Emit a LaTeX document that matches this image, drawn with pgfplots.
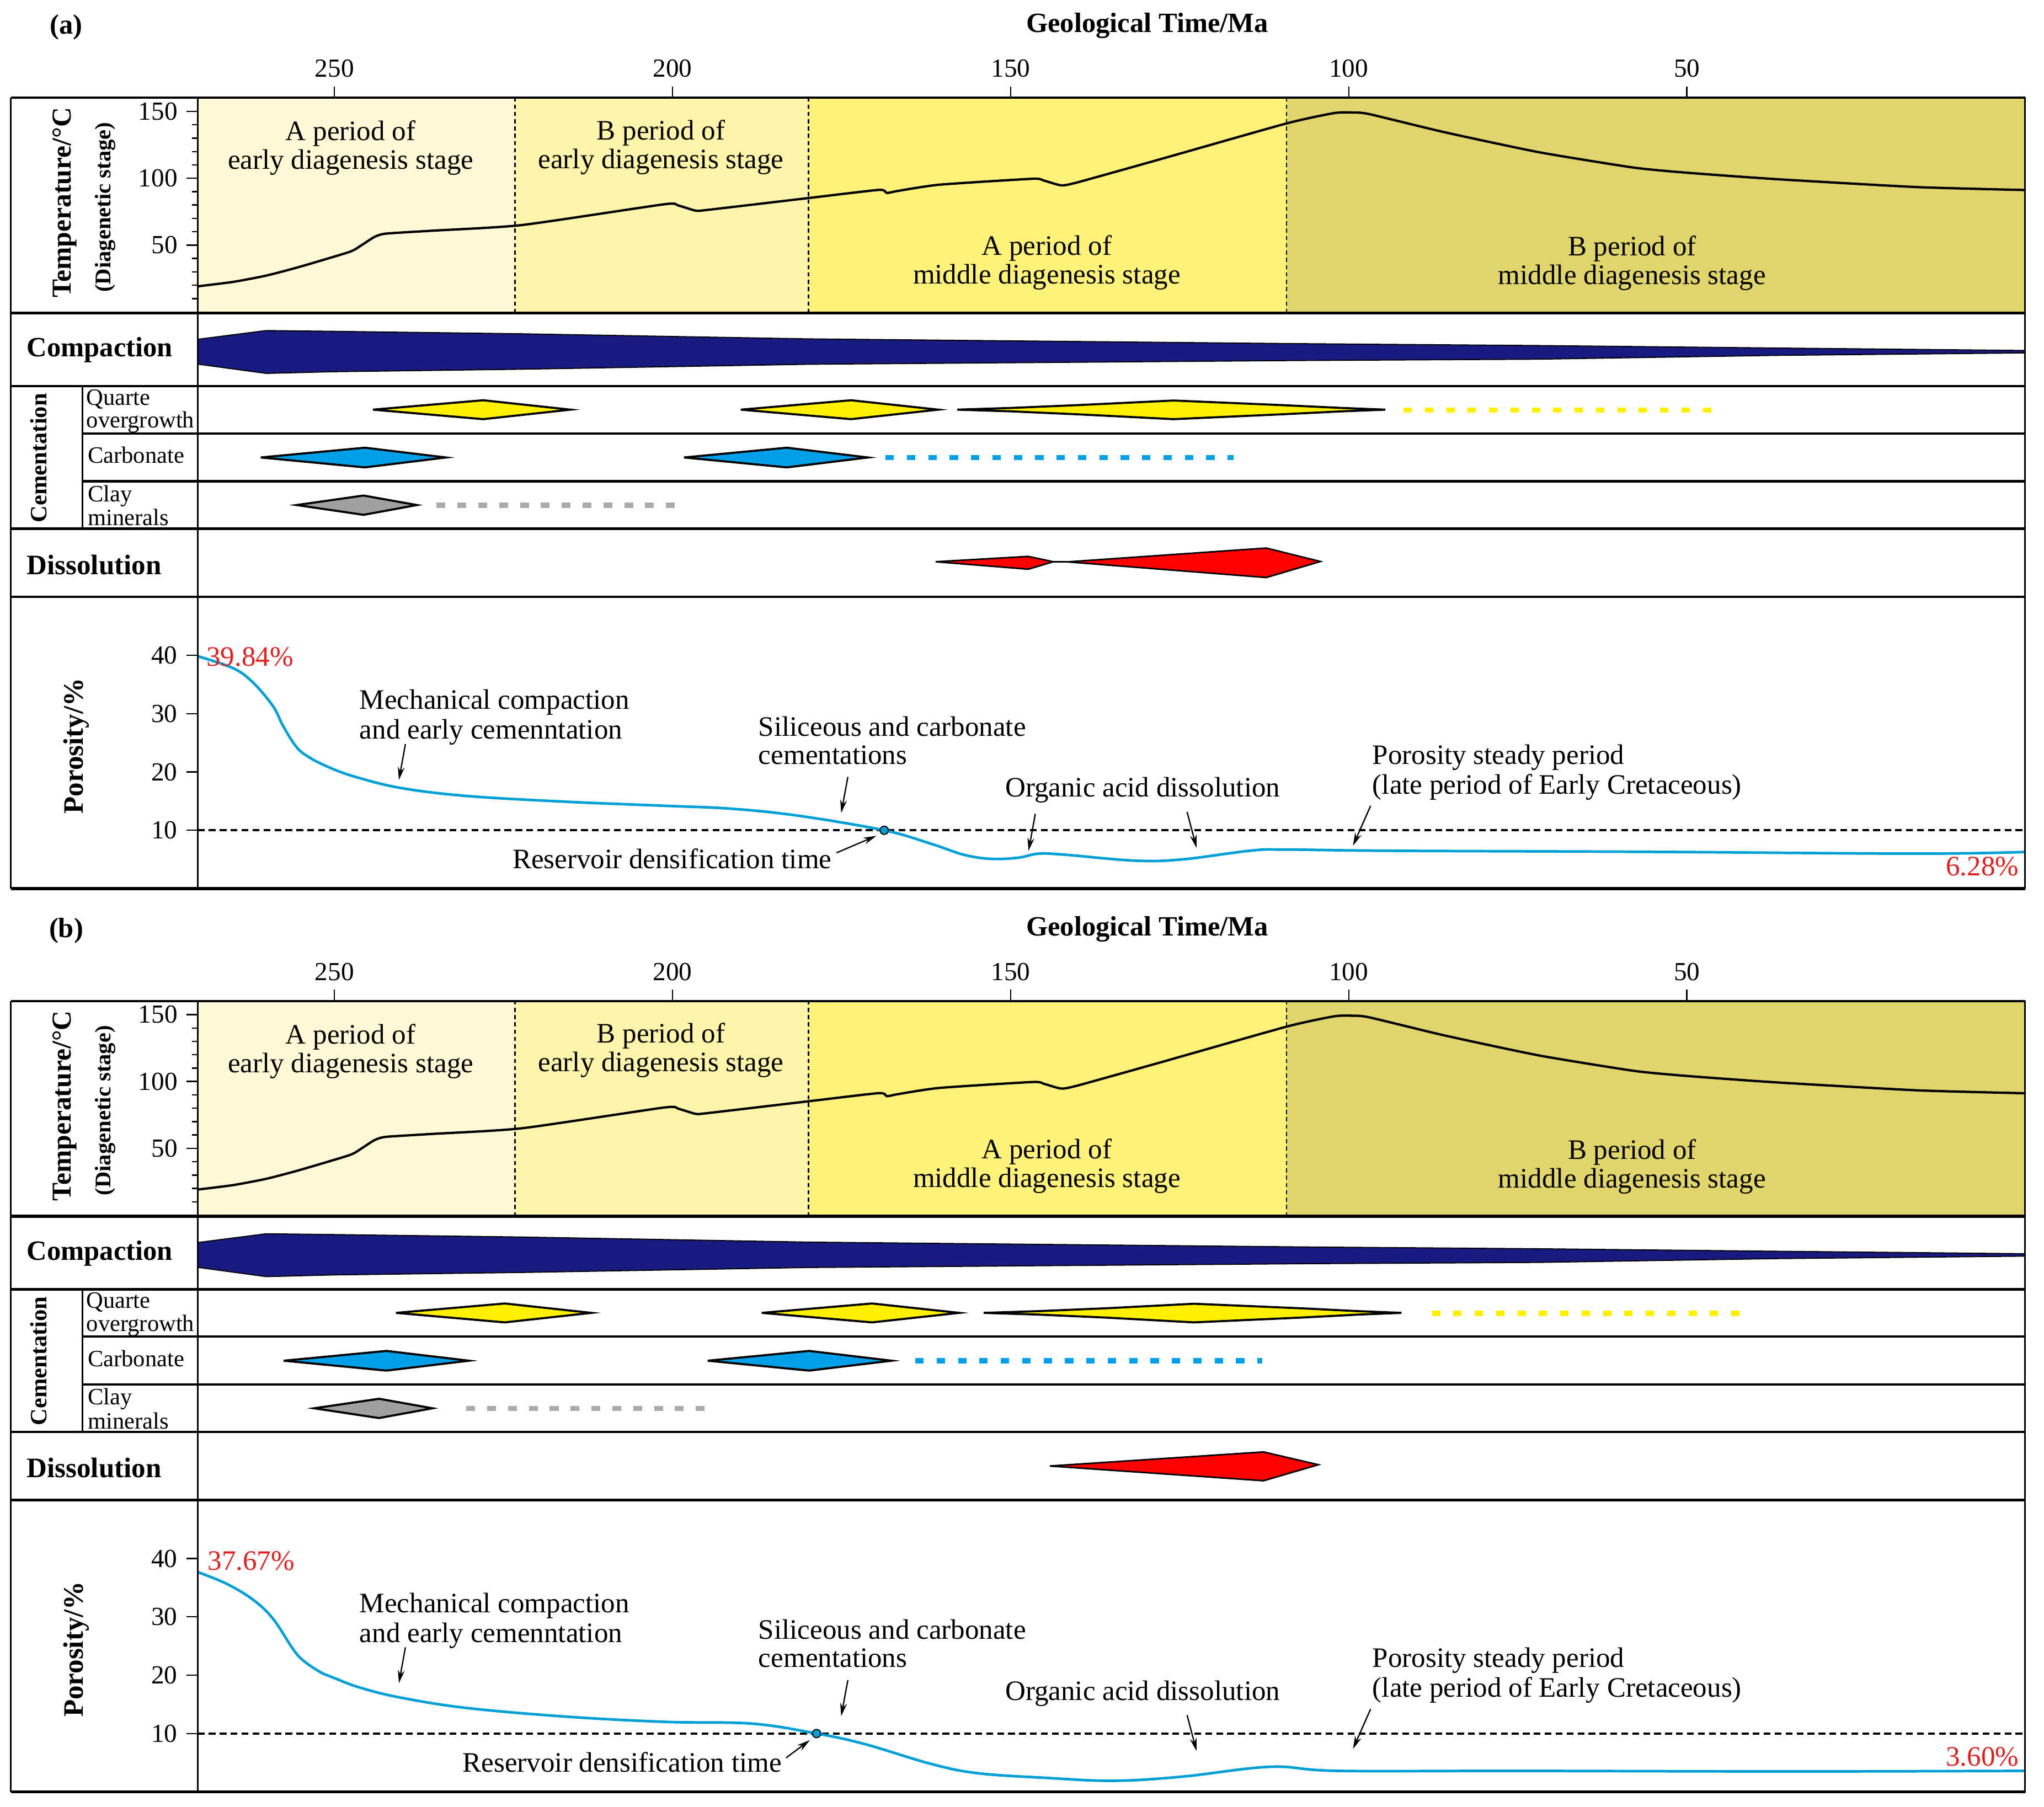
\documentclass[border=0pt]{standalone}
\usepackage{fontspec}
\setmainfont{Liberation Serif}
\usepackage{pgfplots}
\pgfplotsset{compat=1.18}
\usepackage{pgfplotstable}
\usetikzlibrary{arrows.meta}

\definecolor{stA}{HTML}{FFF9D6}
\definecolor{stB}{HTML}{FFF5AA}
\definecolor{stC}{HTML}{FFF27A}
\definecolor{stD}{HTML}{E0D56B}
\definecolor{navy}{RGB}{24,26,128}
\definecolor{qz}{HTML}{FFF000}
\definecolor{carb}{HTML}{00A0E9}
\definecolor{clay}{HTML}{A0A0A0}
\definecolor{poro}{HTML}{00A0D6}
\definecolor{lblred}{HTML}{E0201E}

% temperature history (same in both panels)
\pgfplotstableread{
ma T
270.2 19.2
265.0 22.5
260.1 27.2
255.2 33.7
247.8 44.9
246.1 49.6
244.1 56.1
242.4 58.6
235.5 60.8
222.3 65.0
201.3 80.5
199.2 79.7
196.6 75.8
194.9 76.3
179.9 85.2
169.5 91.3
168.3 89.0
166.6 90.6
160.5 95.2
146.8 99.6
145.1 98.3
142.5 94.7
140.0 97.1
127.9 114.2
109.2 141.0
102.2 148.7
99.6 149.2
97.0 148.0
85.9 134.5
71.9 119.5
57.9 108.0
49.9 104.1
37.0 99.4
16.0 93.4
0.0 91.2
}\temptab

% compaction band outline (y in row units, downward)
\pgfplotstableread{
ma y
270.2 260.3
260.1 253.6
250.2 254.2
222.3 256.1
179.9 260.0
106.9 263.7
72.0 265.1
37.0 267.0
0.0 268.9
0.0 270.8
37.0 272.7
72.0 275.6
106.9 276.6
179.9 279.5
222.3 283.3
250.2 285.2
260.1 286.5
270.2 279.4
270.2 260.3
}\comptab

\pgfplotstableread{
ma p
270.2 39.84
265.0 37.8
262.1 35.4
259.1 31.3
257.6 27.9
255.7 24.4
254.0 22.7
251.2 21.0
247.3 19.3
240.4 17.3
230.6 15.9
215.8 14.9
201.1 14.2
191.3 13.7
181.4 12.5
168.7 10.0
161.8 7.7
156.9 5.8
152.9 5.1
148.9 5.3
145.8 6.0
141.8 5.8
131.7 4.8
124.7 5.0
114.6 6.5
109.6 6.7
94.5 6.5
54.3 6.3
16.1 6.0
0.0 6.28
}\poroa

\pgfplotstableread{
ma p
270.2 37.67
266.0 35.7
262.1 33.0
259.1 29.7
256.2 24.6
254.7 22.6
252.2 20.6
250.2 19.6
246.3 17.9
240.4 16.2
230.6 14.4
215.8 12.9
201.1 12.0
188.3 11.7
178.7 10.0
171.6 8.2
161.8 4.8
154.9 3.2
144.8 2.4
134.8 1.9
124.7 2.6
111.6 4.3
101.6 3.6
74.4 3.6
34.2 3.5
0.0 3.6
}\porob

\pgfplotsset{
  base/.style={scale only axis, width=700.8pt, xmin=0, xmax=270.2, x dir=reverse,
    anchor=north west, /pgf/number format/assume math mode=true,
    ticklabel style={font=\fontsize{10}{12}\selectfont},
    tick align=outside, major tick length=4.3pt, minor tick length=2.2pt,
    tick style={black, line width=0.5pt}, axis line style={line width=0.5pt}},
  tempax/.style={base, height=82.6pt, ymin=-0.8, ymax=160.2, axis on top,
    xtick={50,100,150,200,250}, xtick pos=right, xticklabel pos=right,
    ytick={50,100,150}, minor ytick={10,20,30,40,60,70,80,90,110,120,130,140},
    ytick pos=left},
  midax/.style={base, height=108.85pt, ymin=240.2, ymax=457.9, y dir=reverse, hide axis},
  poroax/.style={base, height=111.95pt, ymin=0, ymax=50.03, xtick=\empty,
    ytick={10,20,30,40}, ytick pos=left},
  diam/.style={draw=black, line width=0.8pt, line join=miter},
}
\tikzset{ann/.style={-{Stealth[length=5pt,width=2.6pt]}, line width=0.5pt},
  txt/.style={font=\fontsize{10.8}{11}\selectfont}}

\newcommand\tempcontent{%
  \addplot[draw=none, fill=stA] coordinates {(270.2,-0.8) (223.3,-0.8) (223.3,160.2) (270.2,160.2)};
  \addplot[draw=none, fill=stB] coordinates {(223.3,-0.8) (179.9,-0.8) (179.9,160.2) (223.3,160.2)};
  \addplot[draw=none, fill=stC] coordinates {(179.9,-0.8) (109.2,-0.8) (109.2,160.2) (179.9,160.2)};
  \addplot[draw=none, fill=stD] coordinates {(109.2,-0.8) (0,-0.8) (0,160.2) (109.2,160.2)};
  \addplot[black, line width=0.5pt, dash pattern=on 1.6pt off 1.2pt] coordinates {(223.3,-0.8) (223.3,160.2)};
  \addplot[black, line width=0.5pt, dash pattern=on 1.6pt off 1.2pt] coordinates {(179.9,-0.8) (179.9,160.2)};
  \addplot[black, line width=0.5pt, dash pattern=on 1.6pt off 1.2pt] coordinates {(109.2,-0.8) (109.2,160.2)};
  \addplot[black, line width=0.9pt, smooth, tension=0.35] table[x=ma, y=T]{\temptab};
}

\newcommand\compcontent{%
  \addplot[fill=navy, draw=black, line width=0.4pt] table[x=ma, y=y]{\comptab};
}

\newcommand\panelframe{%
  \draw[line width=0.6pt] (8.4,75) -- (8.4,681.8);
  \draw[line width=0.6pt] (1553.4,75) -- (1553.4,681.8);
  \draw[line width=0.8pt] (8.4,75) -- (1553.4,75);
  \draw[line width=1.2pt] (8.4,240.2) -- (1553.4,240.2);
  \foreach \yy in {296.3,405.7,457.9} \draw[line width=1pt] (8.4,\yy) -- (1553.4,\yy);
  \draw[line width=1.2pt] (8.4,681.8) -- (1553.4,681.8);
  \foreach \yy in {332.5,369.3} \draw[line width=0.9pt] (63.1,\yy) -- (1553.4,\yy);
  \draw[line width=0.6pt] (151.8,75) -- (151.8,681.8);
  \draw[line width=0.6pt] (63.1,296.3) -- (63.1,405.7);
  % title
  \node[font=\fontsize{10.7}{12}\selectfont\bfseries] at (880,19.9) {Geological Time/Ma};
  % left column
  \node[rotate=90, font=\fontsize{10.5}{12}\selectfont\bfseries] at (49.7,155.5) {Temperature/°C};
  \node[rotate=90, font=\fontsize{8.6}{10}\selectfont\bfseries] at (80.9,159) {(Diagenetic stage)};
  \node[font=\fontsize{10.7}{12}\selectfont\bfseries] at (76.5,268.5) {Compaction};
  \node[rotate=90, font=\fontsize{9}{10}\selectfont\bfseries] at (29.7,351.3) {Cementation};
  \node[anchor=mid west, font=\fontsize{9}{10}\selectfont, inner sep=0pt] at (66,306.1) {Quarte};
  \node[anchor=mid west, font=\fontsize{9}{10}\selectfont, inner sep=0pt] at (66,323.8) {overgrowth};
  \node[anchor=mid west, font=\fontsize{9}{10}\selectfont, inner sep=0pt] at (67,350.9) {Carbonate};
  \node[anchor=mid west, font=\fontsize{9}{10}\selectfont, inner sep=0pt] at (67,380.3) {Clay};
  \node[anchor=mid west, font=\fontsize{9}{10}\selectfont, inner sep=0pt] at (67,398.6) {minerals};
  \node[font=\fontsize{10.8}{12}\selectfont\bfseries] at (72.2,433.2) {Dissolution};
  \node[rotate=90, font=\fontsize{10.8}{12}\selectfont\bfseries] at (58.6,572.4) {Porosity/\%};
  % stage names
  \node[txt, align=center] at (269,113.5) {A period of\\early diagenesis stage};
  \node[txt, align=center] at (507,113) {B period of\\early diagenesis stage};
  \node[txt, align=center] at (803,201.5) {A period of\\middle diagenesis stage};
  \node[txt, align=center] at (1252,202) {B period of\\middle diagenesis stage};
  % shared annotations
  \node[txt, anchor=mid west, inner sep=0pt] at (275.5,539.5) {Mechanical compaction};
  \node[txt, anchor=mid west, inner sep=0pt] at (275.5,562.4) {and early cemenntation};
  \node[txt, anchor=mid west, inner sep=0pt] at (581.5,560.1) {Siliceous and carbonate};
  \node[txt, anchor=mid west, inner sep=0pt] at (581.5,581.6) {cementations};
  \node[txt, anchor=mid west, inner sep=0pt] at (770.8,606.8) {Organic acid dissolution};
  \node[txt, anchor=mid west, inner sep=0pt] at (1052.5,581.6) {Porosity steady period};
  \node[txt, anchor=mid west, inner sep=0pt] at (1052.5,604.5) {(late period of Early Cretaceous)};
  \draw[ann] (311,570.9) -- (306,598.4);
  \draw[ann] (650.4,596.1) -- (645.3,623.7);
  \draw[ann] (910.6,622.9) -- (917.9,650.5);
  \draw[ann] (1051.4,618.3) -- (1037.9,648.9);
}

\begin{document}
\begin{tikzpicture}
\useasboundingbox (0,0) rectangle (784pt,-693.2pt);

%% ---------- panel (a) ----------
\begin{axis}[tempax, at={(75.9pt,-37.5pt)}]
\tempcontent
\end{axis}

\begin{axis}[midax, at={(75.9pt,-120.1pt)}]
\compcontent
% quartz overgrowth
\addplot[diam, fill=qz] coordinates {(244.3,314.3) (228.0,307.1) (215.1,314.3) (228.0,321.6)} -- cycle;
\addplot[diam, fill=qz] coordinates {(189.9,314.3) (173.6,307.1) (160.7,314.3) (173.6,321.6)} -- cycle;
\addplot[diam, fill=qz] coordinates {(157.9,314.3) (150.0,313.0) (140.0,310.8) (125.9,307.3) (110.0,310.8) (101.0,313.0) (94.6,314.3) (101.0,315.6) (110.0,317.9) (125.9,321.6) (140.0,317.9) (150.0,315.6)} -- cycle;
\addplot[qz, line width=2pt, dash pattern=on 3.2pt off 5pt] coordinates {(91.9,314.6) (46.1,314.6)};
% carbonate
\addplot[diam, fill=carb] coordinates {(260.9,351.0) (245.5,343.5) (233.5,351.0) (245.5,358.6)} -- cycle;
\addplot[diam, fill=carb] coordinates {(198.3,351.0) (183.1,343.5) (171.1,351.0) (183.1,358.6)} -- cycle;
\addplot[carb, line width=2pt, dash pattern=on 3.2pt off 5pt] coordinates {(168.5,351.0) (117.0,351.0)};
% clay minerals
\addplot[diam, fill=clay] coordinates {(255.6,387.5) (245.7,380.2) (237.8,387.5) (245.7,395.0)} -- cycle;
\addplot[clay!90, line width=2pt, dash pattern=on 3.4pt off 4.6pt] coordinates {(234.9,387.6) (199.1,387.6)};
% dissolution
\addplot[black, line width=0.6pt] coordinates {(161.1,431.0) (141.6,431.0)};
\addplot[draw=black, line width=0.6pt, fill=red] coordinates {(161.1,431.0) (147.4,426.9) (143.7,431.0) (147.4,436.7)} -- cycle;
\addplot[draw=black, line width=0.6pt, fill=red] coordinates {(141.6,431.1) (112.2,420.5) (104.2,430.8) (112.2,443.1)} -- cycle;
\end{axis}

\begin{axis}[poroax, at={(75.9pt,-228.95pt)}]
\addplot[black, line width=0.8pt, dash pattern=on 2.6pt off 1.6pt] coordinates {(270.2,10) (0,10)};
\addplot[poro, line width=1pt, smooth, tension=0.6] table[x=ma, y=p]{\poroa};
\addplot[only marks, mark=*, mark size=1.6pt, mark options={fill=poro, draw=black, line width=0.4pt}] coordinates {(168.7,10)};
\end{axis}

%% ---------- panel (b) ----------
\begin{axis}[tempax, at={(75.9pt,-384pt)}]
\tempcontent
\end{axis}

\begin{axis}[midax, at={(75.9pt,-466.6pt)}]
\compcontent
\addplot[diam, fill=qz] coordinates {(240.9,314.3) (224.8,307.1) (212.0,314.3) (224.8,321.6)} -- cycle;
\addplot[diam, fill=qz] coordinates {(186.8,314.3) (170.5,307.1) (157.6,314.3) (170.5,321.6)} -- cycle;
\addplot[diam, fill=qz] coordinates {(154.0,314.3) (146.0,313.0) (136.0,310.8) (122.9,307.3) (107.0,310.8) (98.5,313.0) (92.2,314.3) (98.5,315.6) (107.0,317.9) (122.9,321.6) (136.0,317.9) (146.0,315.6)} -- cycle;
\addplot[qz, line width=2pt, dash pattern=on 3.2pt off 5pt] coordinates {(87.7,314.6) (41.8,314.6)};
\addplot[diam, fill=carb] coordinates {(257.5,351.0) (242.3,343.5) (230.1,351.0) (242.3,358.6)} -- cycle;
\addplot[diam, fill=carb] coordinates {(194.8,351.0) (179.8,343.5) (167.6,351.0) (179.8,358.6)} -- cycle;
\addplot[carb, line width=2pt, dash pattern=on 3.2pt off 5pt] coordinates {(164.1,351.0) (112.8,351.0)};
\addplot[diam, fill=clay] coordinates {(253.0,387.5) (243.4,380.2) (235.5,387.5) (243.4,395.0)} -- cycle;
\addplot[clay!90, line width=2pt, dash pattern=on 3.4pt off 4.6pt] coordinates {(230.5,387.6) (194.8,387.6)};
\addplot[black, line width=0.6pt] coordinates {(144.2,431.8) (138.0,431.6)};
\addplot[draw=black, line width=0.6pt, fill=red] coordinates {(144.2,431.8) (112.6,421.0) (104.5,430.8) (112.6,443.1)} -- cycle;
\end{axis}

\begin{axis}[poroax, at={(75.9pt,-575.45pt)}]
\addplot[black, line width=0.8pt, dash pattern=on 2.6pt off 1.6pt] coordinates {(270.2,10) (0,10)};
\addplot[poro, line width=1pt, smooth, tension=0.6] table[x=ma, y=p]{\porob};
\addplot[only marks, mark=*, mark size=1.6pt, mark options={fill=poro, draw=black, line width=0.4pt}] coordinates {(178.7,10)};
\end{axis}

%% ---------- frames and text ----------
\begin{scope}[x=0.5pt, y=-0.5pt]
\panelframe
\node[font=\fontsize{10.7}{12}\selectfont\bfseries] at (50.8,21) {(a)};
\node[txt, anchor=mid west, inner sep=0pt, text=lblred] at (158,506.5) {39.84\%};
\node[txt, anchor=mid east, inner sep=0pt, text=lblred] at (1549,667.3) {6.28\%};
\node[txt, anchor=mid west, inner sep=0pt] at (392.8,661.9) {Reservoir densification time};
\draw[ann] (641.7,654.3) -- (672.3,641.3);
\draw[ann] (794.2,624.4) -- (789,652.8);
\end{scope}

\begin{scope}[x=0.5pt, y=-0.5pt, yshift=-346.5pt]
\panelframe
\node[font=\fontsize{10.7}{12}\selectfont\bfseries] at (50.8,21) {(b)};
\node[txt, anchor=mid west, inner sep=0pt, text=lblred] at (159,506.9) {37.67\%};
\node[txt, anchor=mid east, inner sep=0pt, text=lblred] at (1549,657.5) {3.60\%};
\node[txt, anchor=mid west, inner sep=0pt] at (354.5,662) {Reservoir densification time};
\draw[ann] (603,655.7) -- (621.3,642.1);
\end{scope}
\end{tikzpicture}
\end{document}
